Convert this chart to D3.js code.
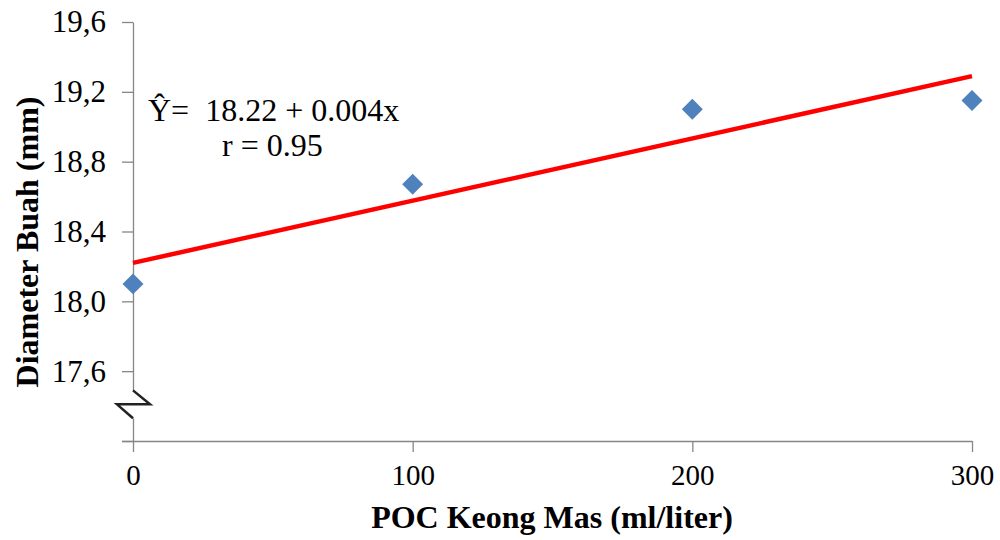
<!DOCTYPE html>
<html>
<head>
<meta charset="utf-8">
<script src="https://cdn.jsdelivr.net/npm/d3@7"></script>
<style>
  body { margin: 0; background: #fff; }
  svg { display: block; font-family: "Liberation Serif", "Times New Roman", serif; }
</style>
</head>
<body>
<svg id="chart"></svg>
<script>
// data
const doses = [0, 100, 200, 300];
const diameters = [18.1, 18.67, 19.1, 19.15];
const yTicks = [17.2, 17.6, 18.0, 18.4, 18.8, 19.2, 19.6];
const xTicks = [0, 100, 200, 300];
// regression line end points (fitted values at x = 0 and 300)
const fitX = [0, 300];
const fitY = [18.22, 19.29];
const equation = ["Ŷ=  18.22 + 0.004x", "r = 0.95"];

const width = 1000, height = 540;
const margin = { top: 22, right: 28, bottom: 99, left: 133 };
const serif = "'Liberation Serif', 'Times New Roman', serif";

const svg = d3.select("#chart").attr("width", width).attr("height", height);

const x = d3.scaleLinear().domain([0, 300]).range([margin.left, width - margin.right]);
const y = d3.scaleLinear().domain([17.2, 19.6]).range([height - margin.bottom, margin.top]);

const fmt = d => d === 17.2 ? "" : d3.format(".1f")(d).replace(".", ",");

// y axis
const gy = svg.append("g")
  .attr("transform", `translate(${margin.left},0)`)
  .call(d3.axisLeft(y).tickValues(yTicks).tickFormat(fmt).tickSize(11).tickPadding(16).tickSizeOuter(0));

// x axis
const gx = svg.append("g")
  .attr("transform", `translate(0,${height - margin.bottom})`)
  .call(d3.axisBottom(x).tickValues(xTicks).tickSize(11).tickPadding(12).tickSizeOuter(0));

[gx, gy].forEach(g => {
  g.selectAll(".domain, line").attr("stroke", "#868686").attr("stroke-width", 1.3);
  g.selectAll("text").attr("fill", "#000").style("font-family", serif);
});
gy.selectAll("text").style("font-size", "31px");
gx.selectAll("text").style("font-size", "29px");
// horizontal axis runs out to the left as the 17.2 tick
gx.select(".domain").attr("d", `M${margin.left - 11},0.5H${width - margin.right}`);

// axis break
const b1 = y(17.49), b2 = y(17.33);
svg.append("rect")
  .attr("x", margin.left - 3).attr("y", b1).attr("width", 6).attr("height", b2 - b1)
  .attr("fill", "#fff");
svg.append("path")
  .attr("d", `M${margin.left},${b1} L${margin.left + 17},${(b1 + b2) / 2} L${margin.left - 16},${(b1 + b2) / 2} L${margin.left},${b2}`)
  .attr("fill", "none").attr("stroke", "#222").attr("stroke-width", 2.5);

// regression line
svg.append("line")
  .attr("x1", x(fitX[0])).attr("y1", y(fitY[0]))
  .attr("x2", x(fitX[1])).attr("y2", y(fitY[1]))
  .attr("stroke", "#ff0000").attr("stroke-width", 4.5);

// points
const diamond = d3.symbol(d3.symbolSquare, 220);
svg.selectAll(".pt")
  .data(doses.map((d, i) => ({ x: d, y: diameters[i] })))
  .enter()
  .append("path")
  .attr("class", "pt")
  .attr("d", diamond)
  .attr("transform", d => `translate(${x(d.x)},${y(d.y)}) rotate(45)`)
  .attr("fill", "#4f81bd");

// equation
svg.append("text").attr("x", 148).attr("y", 121).style("font-size", "32px")
  .style("white-space", "pre").text(equation[0]);
svg.append("text").attr("x", 222).attr("y", 156).style("font-size", "32px").text(equation[1]);

// axis titles
svg.append("text")
  .attr("x", 552).attr("y", 528)
  .attr("text-anchor", "middle")
  .style("font-size", "32px").style("font-weight", "bold")
  .text("POC Keong Mas (ml/liter)");

svg.append("text")
  .attr("transform", `translate(38,242) rotate(-90)`)
  .attr("text-anchor", "middle")
  .style("font-size", "32px").style("font-weight", "bold")
  .text("Diameter Buah (mm)");
</script>
</body>
</html>
